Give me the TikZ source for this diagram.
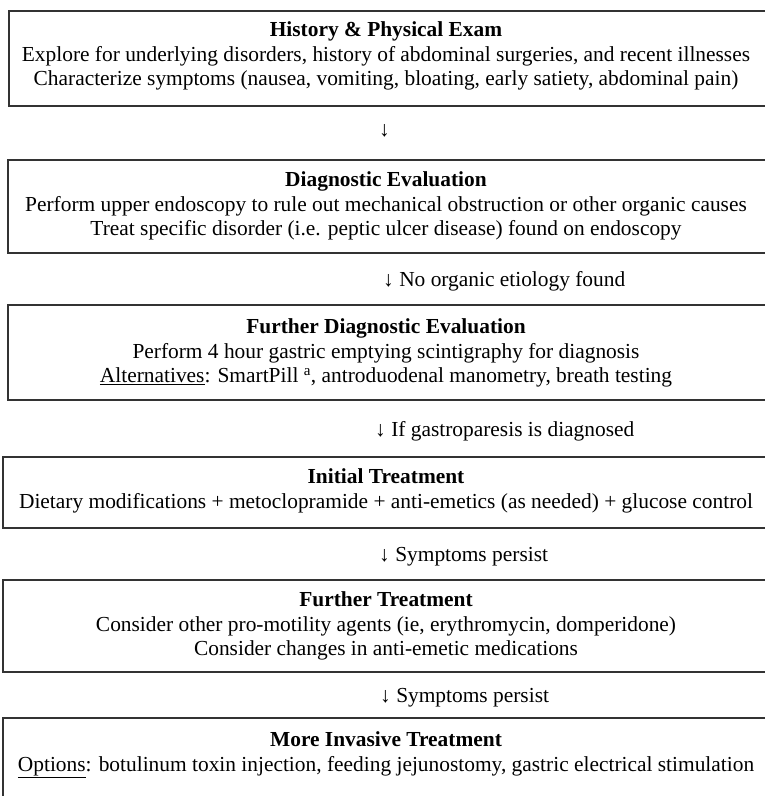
\documentclass[tikz,border=0pt]{standalone}
\usepackage{fontspec}
\setmainfont{Liberation Serif}
\begin{document}
\begin{tikzpicture}[x=1pt,y=-1pt,
  box/.style={draw=black!80,line width=1.4pt,rectangle,inner sep=0pt},
  txt/.style={align=center,inner sep=0pt,font=\fontsize{21.4}{24.5}\selectfont},
  lab/.style={anchor=west,inner sep=0pt,font=\fontsize{21.4}{24.5}\selectfont}]
\useasboundingbox (0,0) rectangle (765,796);
% boxes
\node[box,minimum width=758pt,minimum height=95pt] (b1) at (388,58.5) {};
\node[box,minimum width=759pt,minimum height=93pt] (b2) at (387.5,206.5) {};
\node[box,minimum width=759pt,minimum height=95pt] (b3) at (387.5,352.5) {};
\node[box,minimum width=764pt,minimum height=71pt] (b4) at (385,492.5) {};
\node[box,minimum width=764pt,minimum height=92pt] (b5) at (385,626) {};
\node[box,minimum width=764pt,minimum height=84pt] (b6) at (385,760) {};
% texts
\node[txt] (t1) at (386,56) {\textbf{History \& Physical Exam}\\
Explore for underlying disorders, history of abdominal surgeries, and recent illnesses\\
Characterize symptoms (nausea, vomiting, bloating, early satiety, abdominal pain)};
\node[txt] (t2) at (386,206) {\textbf{Diagnostic Evaluation}\\
Perform upper endoscopy to rule out mechanical obstruction or other organic causes\\
Treat specific disorder (i.e. peptic ulcer disease) found on endoscopy};
\node[txt] (t3) at (386,353) {\textbf{Further Diagnostic Evaluation}\\
Perform 4 hour gastric emptying scintigraphy for diagnosis\\
\underline{Alternatives}: SmartPill \textsuperscript{a}, antroduodenal manometry, breath testing};
\node[txt] (t4) at (386,491) {\textbf{Initial Treatment}\\
Dietary modifications + metoclopramide + anti-emetics (as needed) + glucose control};
\node[txt] (t5) at (386,626) {\textbf{Further Treatment}\\
Consider other pro-motility agents (ie, erythromycin, domperidone)\\
Consider changes in anti-emetic medications};
\node[txt] (t6) at (386,755) {\textbf{More Invasive Treatment}\\
\underline{Options}: botulinum toxin injection, feeding jejunostomy, gastric electrical stimulation};
% arrows (text)
\node[lab] (a1) at (379,131) {↓};
\node[lab] (a2) at (383,281) {↓ No organic etiology found};
\node[lab] (a3) at (375,431) {↓ If gastroparesis is diagnosed};
\node[lab] (a4) at (379,557) {↓ Symptoms persist};
\node[lab] (a5) at (380,698) {↓ Symptoms persist};
\end{tikzpicture}
\end{document}
